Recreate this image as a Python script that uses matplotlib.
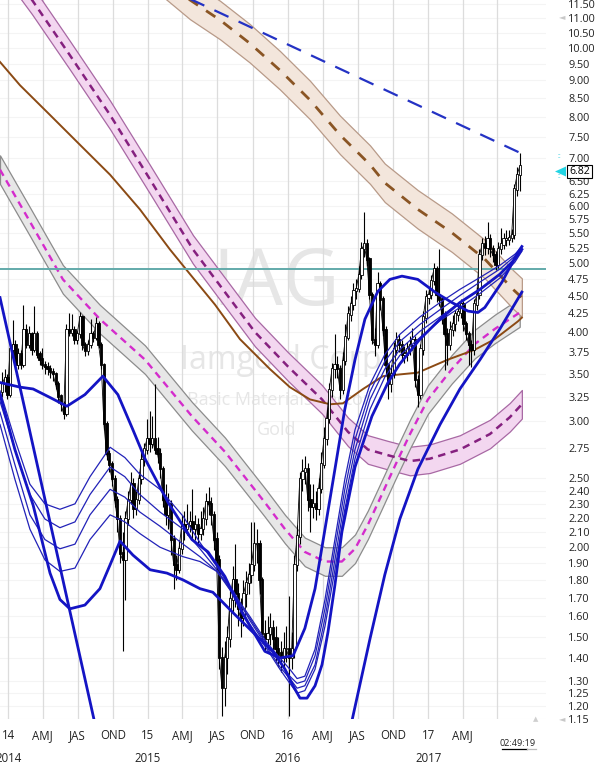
import matplotlib
matplotlib.use("Agg")
import matplotlib.pyplot as plt
import numpy as np
import pandas as pd
from matplotlib.lines import Line2D
from matplotlib.patches import Rectangle

plt.rcParams['font.family'] = ['Open Sans', 'DejaVu Sans']

# weekly bars, week 0 = 2013-12-16
start = pd.Timestamp('2013-12-16')
first_open = 3.30
closes = [3.38, 3.45, 3.27, 3.78, 3.84, 3.60, 3.72, 3.60, 4.03, 3.84,
          3.97, 3.78, 3.97, 3.72, 3.66, 3.60, 3.57, 3.55, 3.52, 3.49,
          3.38, 3.25, 3.17, 3.07, 4.03, 3.99, 4.03, 3.90, 3.97, 4.19,
          3.84, 3.76, 3.84, 3.97, 3.93, 4.10, 3.84, 3.60, 2.97, 2.70,
          2.61, 2.49, 2.33, 2.19, 1.96, 1.92, 2.19, 2.33, 2.45, 2.26,
          2.33, 2.49, 2.65, 2.74, 2.83, 2.79, 2.83, 2.74, 2.70, 2.57,
          2.33, 2.22, 2.30, 2.05, 1.89, 1.86, 1.99, 2.15, 2.12, 2.15,
          2.17, 2.12, 2.15, 2.09, 2.12, 2.19, 2.31, 2.30, 2.22, 2.05,
          1.92, 1.40, 1.27, 1.40, 1.49, 1.69, 1.80, 1.72, 1.64, 1.59,
          1.72, 1.78, 1.83, 1.89, 2.02, 2.02, 1.80, 1.51, 1.49, 1.51,
          1.54, 1.49, 1.44, 1.42, 1.40, 1.44, 1.44, 1.40, 1.44, 1.89,
          2.07, 2.49, 2.55, 2.57, 2.33, 2.28, 2.30, 2.26, 2.41, 2.61,
          2.83, 3.02, 3.32, 3.55, 3.60, 3.55, 3.32, 3.64, 3.93, 4.23,
          4.37, 4.56, 4.59, 4.81, 5.22, 5.30, 5.05, 4.51, 3.90, 3.84,
          4.66, 4.44, 4.03, 3.60, 3.38, 3.49, 3.78, 3.90, 3.84, 3.72,
          3.72, 3.78, 3.84, 3.90, 3.43, 3.27, 3.78, 4.19, 4.47, 4.51,
          4.71, 4.89, 4.51, 4.44, 4.23, 3.97, 3.84, 4.03, 4.10, 4.23,
          4.26, 4.37, 4.10, 3.97, 3.84, 3.78, 4.37, 4.51, 5.13, 5.30,
          5.25, 5.39, 5.22, 5.13, 4.97, 5.22, 5.30, 5.39, 5.39, 5.42,
          5.47, 6.33, 6.64, 6.82]
highs = [3.52, 3.55, 3.50, 3.85, 4.16, 3.90, 3.80, 3.78, 4.37, 4.10,
         4.08, 4.00, 4.35, 4.02, 3.76, 3.80, 3.65, 3.63, 3.60, 3.56,
         3.52, 3.42, 3.28, 3.20, 4.10, 4.25, 4.24, 4.08, 4.02, 4.27,
         4.22, 3.88, 3.90, 4.17, 4.02, 4.20, 4.14, 3.88, 3.62, 3.00,
         2.74, 2.64, 2.52, 2.36, 2.22, 2.10, 2.25, 2.40, 2.55, 2.50,
         2.40, 2.55, 2.75, 2.80, 3.02, 3.10, 3.05, 3.38, 2.85, 2.75,
         2.60, 2.45, 2.38, 2.33, 2.08, 1.95, 2.05, 2.22, 2.25, 2.30,
         2.25, 2.41, 2.22, 2.20, 2.25, 2.28, 2.38, 2.43, 2.35, 2.25,
         2.10, 1.95, 1.45, 1.48, 1.55, 1.75, 1.88, 2.02, 1.78, 1.70,
         1.80, 1.85, 1.90, 2.17, 2.17, 2.12, 2.05, 1.82, 1.58, 1.60,
         1.62, 1.58, 1.55, 1.50, 1.48, 1.52, 1.55, 1.71, 1.52, 1.95,
         2.15, 2.55, 2.66, 2.68, 2.62, 2.45, 2.45, 2.40, 2.50, 2.72,
         2.95, 3.12, 3.40, 3.62, 3.98, 3.70, 3.60, 3.75, 4.10, 4.35,
         4.50, 4.68, 4.75, 4.95, 5.35, 5.88, 5.40, 5.10, 4.55, 4.05,
         4.85, 4.72, 4.50, 4.08, 3.62, 3.60, 3.88, 4.00, 3.98, 3.90,
         3.82, 3.88, 3.95, 4.05, 3.95, 3.48, 3.85, 4.28, 4.58, 4.62,
         4.80, 5.00, 4.95, 5.22, 4.50, 4.28, 4.05, 4.15, 4.22, 4.30,
         4.35, 4.45, 4.42, 4.15, 4.02, 3.90, 4.45, 4.62, 5.22, 5.42,
         5.45, 5.70, 5.48, 5.30, 5.20, 5.35, 5.60, 5.50, 5.55, 5.55,
         5.58, 6.45, 6.80, 7.13]
lows = [3.25, 3.30, 3.22, 3.25, 3.72, 3.55, 3.55, 3.55, 3.58, 3.80,
        3.80, 3.72, 3.75, 3.68, 3.60, 3.55, 3.50, 3.48, 3.45, 3.42,
        3.33, 3.18, 3.10, 3.02, 3.05, 3.95, 3.95, 3.85, 3.85, 3.92,
        3.78, 3.70, 3.72, 3.80, 3.88, 3.90, 3.80, 3.55, 2.92, 2.65,
        2.55, 2.44, 2.28, 2.10, 1.90, 1.43, 1.69, 2.15, 2.30, 2.20,
        2.22, 2.30, 2.45, 2.60, 2.70, 2.72, 2.75, 2.70, 2.62, 2.50,
        2.28, 2.15, 2.12, 1.95, 1.75, 1.80, 1.84, 1.96, 2.05, 2.08,
        2.10, 2.05, 2.05, 2.02, 2.05, 2.08, 2.15, 2.22, 2.15, 1.98,
        1.85, 1.35, 1.16, 1.20, 1.33, 1.45, 1.62, 1.65, 1.55, 1.50,
        1.55, 1.65, 1.72, 1.78, 1.85, 1.90, 1.72, 1.47, 1.43, 1.44,
        1.46, 1.42, 1.38, 1.36, 1.34, 1.36, 1.38, 1.16, 1.35, 1.40,
        1.85, 2.02, 2.40, 2.45, 2.25, 2.10, 2.20, 2.18, 2.22, 2.38,
        2.58, 2.78, 2.98, 3.25, 3.45, 3.45, 3.22, 3.28, 3.60, 3.90,
        4.15, 4.30, 4.45, 4.55, 4.75, 5.10, 4.95, 4.45, 3.85, 3.70,
        3.80, 4.30, 3.95, 3.50, 3.22, 3.30, 3.45, 3.72, 3.75, 3.65,
        3.62, 3.65, 3.72, 3.78, 3.35, 3.14, 3.22, 3.72, 4.12, 4.38,
        4.45, 4.65, 4.40, 4.35, 4.10, 3.54, 3.60, 3.78, 3.95, 4.02,
        4.15, 4.18, 4.02, 3.90, 3.60, 3.58, 3.72, 4.30, 4.45, 5.05,
        5.12, 5.15, 5.10, 5.02, 4.88, 4.92, 5.15, 5.22, 5.28, 5.30,
        5.35, 5.40, 6.20, 6.30]

# moving average (brown)
ma_w = [-0.75, 6.7, 17.9, 29.1, 40.3, 51.4, 62.6, 70.1, 79.4, 88.7, 99.9,
        107.3, 114.8, 122.3, 127.1, 134.6, 142.0, 148.3, 155.0, 166.2,
        176.3, 183.7, 192.3, 193.8]
ma_p = [9.55, 8.86, 8.05, 7.31, 6.64, 5.94, 5.22, 4.82, 4.37, 3.91, 3.55,
        3.35, 3.22, 3.17, 3.18, 3.33, 3.47, 3.49, 3.51, 3.66,
        3.78, 3.91, 4.14, 4.19]

# channel centres
pink_w = [3.0, 11.2, 25.3, 40.3, 55.2, 71.2, 83.1, 94.3, 106.6, 119.3, 129.0,
          136.4, 143.9, 152.1, 159.5, 170.7, 181.9, 189.3, 193.8]
pink_p = [12.84, 11.66, 9.76, 8.05, 6.54, 5.22, 4.55, 4.00, 3.58, 3.22, 2.90,
          2.74, 2.69, 2.64, 2.66, 2.74, 2.88, 3.04, 3.17]
gray_w = [-0.75, 10.4, 22.7, 36.5, 53.3, 70.8, 83.1, 98.0, 105.5, 112.9, 120.4,
          126.7, 131.6, 136.4, 141.6, 146.5, 152.1, 158.8, 167.7, 176.3, 183.7, 193.0]
gray_p = [6.75, 5.71, 4.74, 4.17, 3.66, 3.05, 2.72, 2.31, 2.12, 1.97, 1.91,
          1.91, 1.99, 2.15, 2.37, 2.60, 2.88, 3.22, 3.55, 3.85, 4.04, 4.26]
tan_w = [58.9, 70.1, 81.3, 92.4, 103.6, 114.8, 126.0, 137.2, 142.7, 155.0,
         167.7, 180.0, 190.5, 193.8]
tan_p = [12.64, 11.66, 10.93, 10.14, 9.30, 8.45, 7.55, 6.86, 6.47, 5.94,
         5.51, 5.06, 4.59, 4.47]

# trend line (dashed blue) and resistance level
trend_w = [68.0, 193.0]
trend_p = [11.80, 7.13]
level = 4.90

# blue projection curves
line1_w = [-0.75, 35.4]
line1_p = [4.47, 1.10]
curve_a_w = [-0.75, 6.7, 11.6, 17.9, 24.2, 30.9, 37.6, 43.2, 48.8, 53.3, 61.9,
             70.8, 76.8, 83.1, 89.5, 98.0, 103.6, 108.5, 112.9, 116.7, 120.4,
             124.1, 127.8, 131.6, 135.3, 140.1, 144.6, 149.1, 155.0, 161.4,
             167.7, 173.7, 177.4, 180.0, 186.4, 192.3, 193.8]
curve_a_p = [3.40, 3.35, 3.33, 3.24, 3.15, 3.27, 3.47, 3.27, 2.92, 2.66, 2.31,
             2.05, 1.97, 1.82, 1.62, 1.43, 1.40, 1.41, 1.54, 1.75, 2.12,
             2.57, 3.12, 3.66, 4.17, 4.56, 4.74, 4.79, 4.74, 4.55,
             4.40, 4.28, 4.26, 4.33, 4.70, 5.17, 5.27]
curve_b_w = [-0.75, 4.8, 11.6, 17.9, 21.6, 25.3, 30.9, 36.5, 40.3, 44.0, 48.8,
             55.2, 61.5, 67.5, 73.8, 78.6, 86.1, 93.6, 101.0, 105.5, 108.5,
             111.1, 113.7, 116.7, 119.3, 121.5, 124.1, 126.7, 131.6, 137.9,
             143.9, 148.3, 155.8, 163.3, 170.7, 178.2, 185.6, 191.2, 193.8]
curve_b_p = [3.27, 2.74, 2.29, 1.84, 1.69, 1.64, 1.66, 1.75, 1.89, 2.04, 1.95,
             1.86, 1.84, 1.80, 1.75, 1.73, 1.62, 1.52, 1.43, 1.35, 1.28,
             1.23, 1.23, 1.28, 1.37, 1.52, 1.77, 2.10, 2.59, 3.05,
             3.40, 3.61, 3.91, 4.17, 4.40, 4.59, 4.82, 5.06, 5.22]
curve_c_w = [129.0, 137.2, 142.7, 148.3, 155.0, 163.3, 170.7, 178.2, 185.6, 193.8]
curve_c_p = [1.08, 1.49, 1.83, 2.19, 2.57, 2.97, 3.33, 3.66, 4.04, 4.55]

thin_w = [-0.75, 4.8, 10.4, 16.0, 21.6, 27.2, 32.8, 40.3, 45.8, 51.4, 58.9,
          67.5, 73.8, 80.1, 86.1, 92.4, 98.8, 103.6, 107.3, 110.0, 112.9,
          116.7, 120.4, 124.1, 127.8, 131.6, 137.2, 142.7, 148.3, 155.8,
          163.3, 170.7, 178.2, 185.6, 191.2, 193.8]
thin_1 = [3.31, 2.83, 2.45, 2.30, 2.26, 2.30, 2.51, 2.76, 2.67, 2.53, 2.41,
          2.21, 2.03, 1.88, 1.73, 1.60, 1.47, 1.40, 1.35, 1.31, 1.32,
          1.44, 1.69, 2.05, 2.49, 2.92, 3.38, 3.72, 3.97, 4.20,
          4.40, 4.59, 4.77, 4.96, 5.14, 5.26]
thin_2 = [3.20, 2.74, 2.37, 2.19, 2.13, 2.17, 2.37, 2.59, 2.51, 2.37, 2.24,
          2.12, 1.99, 1.86, 1.72, 1.59, 1.46, 1.38, 1.32, 1.29, 1.30,
          1.41, 1.64, 1.99, 2.41, 2.83, 3.30, 3.64, 3.88, 4.10,
          4.30, 4.50, 4.70, 4.90, 5.11, 5.24]
thin_3 = [3.09, 2.61, 2.22, 2.05, 1.99, 2.02, 2.22, 2.41, 2.35, 2.24, 2.14,
          2.02, 1.94, 1.85, 1.74, 1.58, 1.45, 1.36, 1.31, 1.27, 1.28,
          1.37, 1.59, 1.92, 2.33, 2.74, 3.22, 3.55, 3.78, 4.01,
          4.20, 4.40, 4.59, 4.82, 5.06, 5.22]
thin_4 = [2.97, 2.49, 2.12, 1.92, 1.85, 1.87, 2.05, 2.22, 2.17, 2.09, 2.00,
          1.94, 1.91, 1.85, 1.72, 1.56, 1.44, 1.35, 1.29, 1.25, 1.26,
          1.35, 1.55, 1.86, 2.26, 2.66, 3.12, 3.46, 3.71, 3.93,
          4.15, 4.33, 4.53, 4.76, 5.01, 5.19]

y_ticks = [11.50, 11.00, 10.50, 10.00, 9.50, 9.00, 8.50, 8.00, 7.50, 7.00,
           6.50, 6.25, 6.00, 5.75, 5.50, 5.25, 5.00, 4.75, 4.50, 4.25,
           4.00, 3.75, 3.50, 3.25, 3.00, 2.75, 2.50, 2.40, 2.30, 2.20,
           2.10, 2.00, 1.90, 1.80, 1.70, 1.60, 1.50, 1.40, 1.30, 1.25,
           1.20, 1.15]
last_price = "6.82"
clock = "02:49:19"

W, H = 595, 765
fig = plt.figure(figsize=(W / 100, H / 100), dpi=100)
ax = fig.add_axes([0, 46 / H, 546 / W, 719 / H])
ax.set_yscale('log')
ax.set_ylim(1.153, 11.66)
ax.set_xlim(-0.75, 202.8)
for s in ax.spines.values():
    s.set_visible(False)

# quarter grid and labels
quarters = pd.date_range('2014-01-01', '2017-07-01', freq='QS')
qw = (quarters - start).days / 7
qnames = {4: 'AMJ', 7: 'JAS', 10: 'OND'}
qlabels = []
for d in quarters:
    if d == quarters[-1]:
        qlabels.append('')
    elif d.month == 1:
        qlabels.append(f"{d:%y}\n{d:%Y}")
    else:
        qlabels.append(qnames[d.month])
for x in qw:
    ax.axvline(x, color='#dcdcdc', lw=0.9, zorder=1)
ax.set_xticks(qw, qlabels)
ax.tick_params(axis='x', length=0, pad=7, labelsize=8.3, colors='#222222')
for lbl in ax.get_xticklabels():
    lbl.set_linespacing(2.0)

ax.yaxis.set_minor_locator(matplotlib.ticker.NullLocator())
ax.set_yticks(y_ticks, [f"{v:.2f}" for v in y_ticks])
ax.tick_params(axis='y', which='both', left=False, right=True, labelleft=False,
               labelright=True, length=0, pad=16, labelsize=7.8, colors='#222222')
for v in y_ticks:
    ax.axhline(v, color='#f4f4f4', lw=0.8, zorder=0.5)

# watermark
wm = dict(transform=ax.transAxes, ha='center', va='center', color='#e6e6e6', zorder=0.6)
ax.text(0.505, 0.604, 'IAG', fontsize=56, **wm)
ax.text(0.515, 0.499, 'Iamgold Corp', fontsize=23, **wm)
ax.text(0.51, 0.444, 'Basic Materials Sector', fontsize=13, **wm)
ax.text(0.507, 0.402, 'Gold', fontsize=13, **wm)


def channel(w, p, k, face, edge, dash_col, dash, lw):
    w = np.array(w)
    p = np.array(p)
    ax.fill_between(w, p * np.exp(-k), p * np.exp(k), facecolor=face,
                    edgecolor=edge, lw=0.9, zorder=2)
    ax.plot(w, p, color=dash_col, lw=lw, dashes=dash, zorder=2.2)


channel(pink_w, pink_p, 0.046, '#f3d7f0', '#a868a4', '#85207f', (3, 2.2), 1.8)
channel(gray_w, gray_p, 0.046, '#e7e7e7', '#8c8c8c', '#d42ccc', (3, 2.2), 1.7)
channel(tan_w, tan_p, 0.062, '#f3e6dc', '#b89a88', '#8a5524', (4, 3.5), 2.0)

ax.plot(ma_w, ma_p, color='#8b4a14', lw=1.4, zorder=3)
ax.axhline(level, color='#62aaaa', lw=1.4, zorder=3.5)

# candles
w = np.arange(len(closes))
c = np.array(closes)
o = np.array([first_open] + closes[:-1])
ax.plot(w, c, color='black', lw=0.6, zorder=4)
ax.vlines(w, lows, highs, color='black', lw=0.8, zorder=4.2)
lo = np.minimum(o, c)
hi = np.maximum(o, c) * 1.004
up = c >= o
ax.bar(w[up], (hi - lo)[up], bottom=lo[up], width=0.85, facecolor='white',
       edgecolor='black', lw=0.6, zorder=4.5)
ax.bar(w[~up], (hi - lo)[~up], bottom=lo[~up], width=0.85, facecolor='black',
       edgecolor='black', lw=0.6, zorder=4.5)

# blue curves
blue = '#1414c4'
for cw, cp in [(line1_w, line1_p), (curve_a_w, curve_a_p),
               (curve_b_w, curve_b_p), (curve_c_w, curve_c_p)]:
    ax.plot(cw, cp, color=blue, lw=2.0, solid_joinstyle='round', zorder=6)
for tp in [thin_1, thin_2, thin_3, thin_4]:
    ax.plot(thin_w, tp, color='#2222b8', lw=0.9, zorder=5.8)
ax.plot(trend_w, trend_p, color='#2432c4', lw=1.6, dashes=(7, 5), zorder=6.2)


# right-side markers
def fx(px):
    return px / W


def fy(py):
    return 1 - py / H


fig.patches.append(Rectangle((fx(567), fy(178)), 25 / W, 13 / H, transform=fig.transFigure,
                             facecolor='white', edgecolor='black', lw=0.8, zorder=10))
fig.text(fx(579.5), fy(171.5), last_price, ha='center', va='center', fontsize=7.6, zorder=11)
fig.patches.append(plt.Polygon([(fx(555), fy(171.5)), (fx(566), fy(166.5)), (fx(566), fy(176.5))],
                               closed=True, transform=fig.transFigure, facecolor='#22d4e4',
                               edgecolor='none', zorder=10))
for yy in (157, 177):
    fig.text(fx(559), fy(yy), '::', ha='center', va='center', fontsize=5, color='#22c8dc')
fig.text(fx(562), fy(18), '◄', ha='center', va='center', fontsize=6, color='#c8c8c8')
fig.text(fx(562), fy(720), '◄', ha='center', va='center', fontsize=6, color='#c8c8c8')
fig.text(fx(536), fy(720), '▲', ha='center', va='center', fontsize=5, color='#cfcfcf')

fig.text(fx(518), fy(743), clock, ha='center', va='center', fontsize=6.5, color='#222222')
fig.lines.append(Line2D([fx(502), fx(527)], [fy(749), fy(749)], transform=fig.transFigure,
                        color='black', lw=0.9))
fig.lines.append(Line2D([fx(527), fx(536)], [fy(749), fy(749)], transform=fig.transFigure,
                        color='#bbbbbb', lw=0.9))

fig.savefig('out.png', dpi=100)
